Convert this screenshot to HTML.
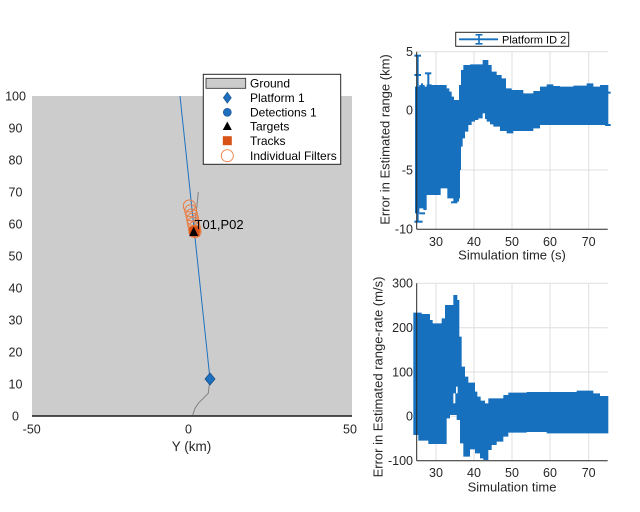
<!DOCTYPE html>
<html><head><meta charset="utf-8"><style>
html,body{margin:0;padding:0;background:#fff;}
svg{display:block;font-family:"Liberation Sans",Arial,sans-serif;}
</style></head><body>
<svg width="640" height="512" viewBox="0 0 640 512" xmlns="http://www.w3.org/2000/svg">
<rect width="640" height="512" fill="#fff"/>

<!-- ================= LEFT THEATER PLOT ================= -->
<rect x="32" y="96" width="320" height="320" fill="#cccccc"/>
<line x1="32" y1="416" x2="352" y2="416" stroke="#1a1a1a" stroke-width="1.6"/>
<polyline points="210,380 209,386.7 208.3,393.3 203.3,398.3 198.3,403.3 195,408.3 192.7,415" fill="none" stroke="#808080" stroke-width="1"/>
<polyline points="198.3,192 197,205 195.5,218 194.3,228" fill="none" stroke="#808080" stroke-width="1"/>
<line x1="180" y1="96" x2="210" y2="379" stroke="#1f72c0" stroke-width="1"/>
<polygon points="210,373 215,379 210,385 205,379" fill="#1f6fbf" stroke="#164f88" stroke-width="0.8"/>
<g fill="none" stroke="#ea7b42" stroke-width="1">
<circle cx="189.3" cy="206" r="6"/>
<circle cx="190.7" cy="210.7" r="6"/>
<circle cx="191.7" cy="215" r="6"/>
<circle cx="192.7" cy="219.3" r="6"/>
<circle cx="193.3" cy="223.3" r="6"/>
<circle cx="194.3" cy="227.7" r="6"/>
<circle cx="195" cy="231.7" r="6"/>
</g>
<circle cx="194.5" cy="231" r="6" fill="#e8691f" opacity="0.85"/>
<rect x="189.5" y="226.5" width="10" height="10" fill="#d95319"/>
<polygon points="193.7,226.5 189.2,236 198.2,236" fill="#000"/>
<text x="194.5" y="228.8" font-size="13" fill="#000">T01,P02</text>

<g font-size="12.5" fill="#262626" text-anchor="middle">
<text x="15.5" y="100.5">100</text>
<text x="15.5" y="132.5">90</text>
<text x="15.5" y="164.5">80</text>
<text x="15.5" y="196.5">70</text>
<text x="15.5" y="228.5">60</text>
<text x="15.5" y="260.5">50</text>
<text x="15.5" y="292.5">40</text>
<text x="15.5" y="324.5">30</text>
<text x="15.5" y="356.5">20</text>
<text x="15.5" y="388.5">10</text>
<text x="15.5" y="420.5">0</text>
<text x="31.7" y="433.5">-50</text>
<text x="188.5" y="433.5">0</text>
<text x="350" y="433.5">50</text>
</g>
<text x="191.5" y="451" font-size="13.5" fill="#262626" text-anchor="middle">Y (km)</text>

<rect x="203.3" y="74.3" width="137.4" height="90" fill="#fff" stroke="#262626" stroke-width="1"/>
<rect x="206" y="78.3" width="39.7" height="10" fill="#cccccc" stroke="#262626" stroke-width="0.8"/>
<polygon points="227.3,92.2 231.3,97.7 227.3,103.2 223.3,97.7" fill="#1f6fbf" stroke="#164f88" stroke-width="0.6"/>
<circle cx="227.3" cy="112.3" r="4" fill="#1f6fbf" stroke="#164f88" stroke-width="0.6"/>
<polygon points="227.3,121.5 222.8,130 231.8,130" fill="#000"/>
<rect x="222.8" y="136.2" width="9" height="9" fill="#d95319"/>
<circle cx="227.3" cy="155.7" r="6" fill="none" stroke="#ea7b42" stroke-width="0.9"/>
<g font-size="12" fill="#000">
<text x="250" y="87.5">Ground</text>
<text x="250" y="102">Platform 1</text>
<text x="250" y="116.6">Detections 1</text>
<text x="250" y="130.3">Targets</text>
<text x="250" y="145">Tracks</text>
<text x="250" y="160">Individual Filters</text>
</g>

<!-- ================= TOP RIGHT PLOT ================= -->
<g stroke="#dfdfdf" stroke-width="1">
<line x1="436" y1="51.7" x2="436" y2="229.3"/>
<line x1="474" y1="51.7" x2="474" y2="229.3"/>
<line x1="512" y1="51.7" x2="512" y2="229.3"/>
<line x1="550" y1="51.7" x2="550" y2="229.3"/>
<line x1="588.7" y1="51.7" x2="588.7" y2="229.3"/>
<line x1="416.7" y1="51.7" x2="607.7" y2="51.7"/>
<line x1="416.7" y1="110" x2="607.7" y2="110"/>
<line x1="416.7" y1="170" x2="607.7" y2="170"/>
</g>
<g transform="translate(360,25) scale(0.33333)">
<polygon fill="#1670be" points="165,185 200,185 200,178 215,178 215,180 260,180 260,190 268,190 268,200 275,200 275,215 282,215 282,225 297,225 297,180 303,180 303,135 310,135 310,120 330,120 330,118 368,118 368,105 385,105 385,120 395,120 395,140 410,140 410,150 425,150 425,160 438,160 438,190 455,190 455,195 490,195 490,205 520,205 520,198 540,198 540,185 560,185 560,178 580,178 580,183 600,183 600,185 640,185 640,182 680,182 680,175 700,175 700,185 720,185 720,180 745,180 745,300 600,300 540,300 540,310 520,310 520,318 460,318 460,325 440,325 440,318 420,318 420,305 400,305 400,298 390,298 390,290 380,290 380,282 375,282 375,265 368,265 368,280 355,280 355,285 345,285 345,290 335,290 335,300 325,300 325,320 315,320 315,340 308,340 308,365 303,365 303,435 300,435 300,520 297,520 297,530 280,530 280,520 262,520 262,490 242,490 242,510 200,510 200,555 190,555 190,550 178,550 178,565 165,565"/>
<g stroke="#1670be" stroke-width="6" fill="none">
<line x1="173" y1="92" x2="173" y2="590"/>
<line x1="163" y1="92" x2="183" y2="92"/>
<line x1="163" y1="150" x2="183" y2="150"/>
<line x1="163" y1="590" x2="188" y2="590"/>
<line x1="178" y1="565" x2="195" y2="565"/>
<line x1="205" y1="145" x2="205" y2="185"/>
<line x1="195" y1="145" x2="214" y2="145"/>
<line x1="186" y1="175" x2="186" y2="185"/>
<line x1="178" y1="183" x2="194" y2="183"/>
<line x1="273" y1="532" x2="292" y2="532"/>
<line x1="735" y1="203" x2="752" y2="203"/>
<line x1="735" y1="300" x2="752" y2="300"/>
</g>
</g>
<line x1="416.7" y1="51.7" x2="416.7" y2="229.3" stroke="#262626" stroke-width="1"/>
<line x1="416.7" y1="229.3" x2="607.7" y2="229.3" stroke="#262626" stroke-width="1"/>
<g font-size="12.5" fill="#262626">
<g text-anchor="end">
<text x="413" y="56">5</text>
<text x="413" y="114.3">0</text>
<text x="413" y="174.3">-5</text>
<text x="413" y="233.6">-10</text>
</g>
<g text-anchor="middle">
<text x="436" y="246">30</text>
<text x="474" y="246">40</text>
<text x="512" y="246">50</text>
<text x="550" y="246">60</text>
<text x="588.7" y="246">70</text>
</g>
</g>
<text x="512" y="259.5" font-size="13" fill="#262626" text-anchor="middle">Simulation time (s)</text>
<text transform="translate(389.5,139.5) rotate(-90)" font-size="13" fill="#262626" text-anchor="middle">Error in Estimated range (km)</text>

<rect x="455.7" y="32.3" width="113" height="14" fill="#fff" stroke="#262626" stroke-width="1"/>
<line x1="459" y1="39.3" x2="498" y2="39.3" stroke="#1670be" stroke-width="1.8"/>
<g stroke="#1670be" stroke-width="1.6">
<line x1="479" y1="34.8" x2="479" y2="43.8"/>
<line x1="475.5" y1="34.8" x2="482.5" y2="34.8"/>
<line x1="475.5" y1="43.8" x2="482.5" y2="43.8"/>
</g>
<text x="502" y="43.3" font-size="11" fill="#000">Platform ID 2</text>

<!-- ================= BOTTOM RIGHT PLOT ================= -->
<g stroke="#dfdfdf" stroke-width="1">
<line x1="436" y1="283.3" x2="436" y2="460.7"/>
<line x1="474" y1="283.3" x2="474" y2="460.7"/>
<line x1="512" y1="283.3" x2="512" y2="460.7"/>
<line x1="550" y1="283.3" x2="550" y2="460.7"/>
<line x1="588.7" y1="283.3" x2="588.7" y2="460.7"/>
<line x1="416.7" y1="283.3" x2="607.7" y2="283.3"/>
<line x1="416.7" y1="327.7" x2="607.7" y2="327.7"/>
<line x1="416.7" y1="372" x2="607.7" y2="372"/>
<line x1="416.7" y1="416.3" x2="607.7" y2="416.3"/>
</g>
<g transform="translate(360,270) scale(0.33333)">
<polygon fill="#1670be" points="160,128 185,128 185,132 210,132 210,150 218,150 218,160 245,160 245,145 255,145 255,105 280,105 280,75 292,75 292,90 298,90 298,200 305,200 305,290 315,290 315,320 325,320 325,338 345,338 345,365 352,365 352,380 362,380 362,392 375,392 375,400 385,400 385,385 430,385 430,375 445,375 445,368 500,368 500,366 650,366 650,362 700,362 700,370 720,370 720,378 745,378 745,490 560,490 560,486 500,486 500,488 445,488 445,500 430,500 430,515 410,515 410,525 395,525 395,540 385,540 385,570 370,570 370,565 360,565 360,550 345,550 345,538 330,538 330,560 310,560 310,520 300,520 300,450 290,450 290,435 270,435 270,445 260,445 260,522 205,522 205,512 175,512 175,495 160,495"/>
<g fill="#fff">
<rect x="280" y="370" width="6" height="30"/>
<rect x="288" y="350" width="5" height="20"/>
</g>
</g>
<line x1="416.7" y1="283.3" x2="416.7" y2="460.7" stroke="#262626" stroke-width="1"/>
<line x1="416.7" y1="460.7" x2="607.7" y2="460.7" stroke="#262626" stroke-width="1"/>
<g font-size="12.5" fill="#262626">
<g text-anchor="end">
<text x="413" y="287.6">300</text>
<text x="413" y="332">200</text>
<text x="413" y="376.3">100</text>
<text x="413" y="420.6">0</text>
<text x="413" y="465">-100</text>
</g>
<g text-anchor="middle">
<text x="436" y="477">30</text>
<text x="474" y="477">40</text>
<text x="512" y="477">50</text>
<text x="550" y="477">60</text>
<text x="588.7" y="477">70</text>
</g>
</g>
<text x="512" y="491.5" font-size="13" fill="#262626" text-anchor="middle">Simulation time</text>
<text transform="translate(382.5,377) rotate(-90)" font-size="13" fill="#262626" text-anchor="middle">Error in Estimated range-rate (m/s)</text>
</svg>
</body></html>
